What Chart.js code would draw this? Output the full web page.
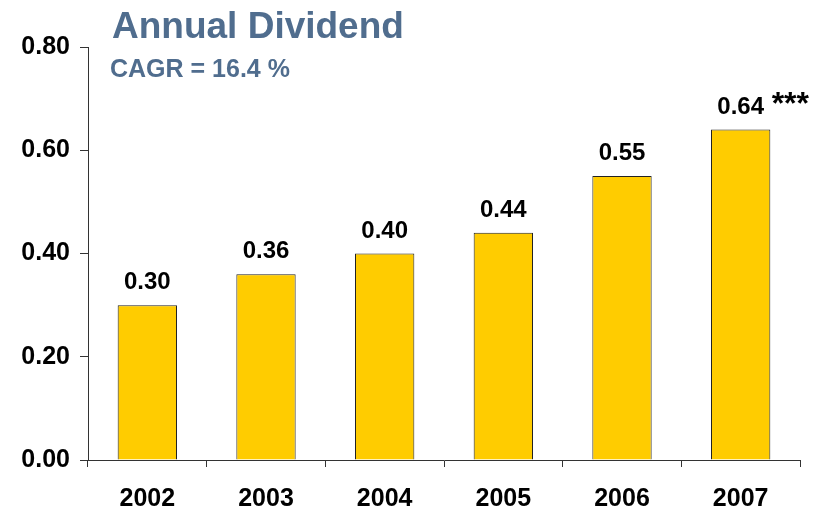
<!DOCTYPE html>
<html>
<head>
<meta charset="utf-8">
<script src="https://cdn.jsdelivr.net/npm/chart.js@4"></script>
<style>
  html, body { margin: 0; padding: 0; background: #fff; }
  #wrap { width: 816px; height: 510px; }
</style>
</head>
<body>
<div id="wrap"><canvas id="grafico" width="816" height="510"></canvas></div>
<script>
const anos = ['2002', '2003', '2004', '2005', '2006', '2007']
const dividendos = [0.30, 0.36, 0.40, 0.44, 0.55, 0.64]
const notas = ['', '', '', '', '', '***']
const titulo = 'Annual Dividend'
const subtitulo = 'CAGR = 16.4 %'

const fonte = 'Liberation Sans, Arial, sans-serif'

// title, subtitle and the value labels over each bar
const textos = {
  id: 'textos',
  afterDatasetsDraw(chart) {
    const c = chart.ctx
    c.save()
    c.fillStyle = '#506d8e'
    c.textAlign = 'left'
    c.textBaseline = 'alphabetic'
    c.font = 'bold 37px ' + fonte
    c.fillText(titulo, 112, 38)
    c.font = 'bold 25px ' + fonte
    c.fillText(subtitulo, 110, 77)

    const meta = chart.getDatasetMeta(0)
    c.fillStyle = '#000'
    meta.data.forEach((bar, i) => {
      c.textAlign = 'center'
      c.font = 'bold 24px ' + fonte
      c.fillText(dividendos[i].toFixed(2), bar.x, bar.y - 16)
      if (notas[i]) {
        c.textAlign = 'left'
        c.font = 'bold 32px ' + fonte
        c.fillText(notas[i], bar.x + 31, bar.y - 16)
      }
    })
    c.restore()
  }
}

new Chart(document.getElementById('grafico'), {
  type: 'bar',
  data: {
    labels: anos,
    datasets: [{
      data: dividendos,
      backgroundColor: '#ffcc00',
      borderColor: '#222222',
      borderWidth: 1,
      barPercentage: 0.5,
      categoryPercentage: 1.0
    }]
  },
  options: {
    responsive: false,
    animation: false,
    layout: { padding: { top: 47, right: 16, left: 0, bottom: 0 } },
    plugins: {
      legend: { display: false },
      tooltip: { enabled: false }
    },
    scales: {
      y: {
        min: 0,
        max: 0.8,
        afterFit(axis) { axis.width = 88 },
        ticks: {
          stepSize: 0.2,
          color: '#000',
          padding: 10,
          font: { family: fonte, size: 25, weight: 'bold' },
          callback: (v) => Number(v).toFixed(2)
        },
        grid: { drawOnChartArea: false, drawTicks: true, tickLength: 8, color: '#333' },
        border: { display: true, color: '#333', width: 1 }
      },
      x: {
        afterFit(axis) { axis.height = 50 },
        ticks: {
          color: '#000',
          padding: 17,
          font: { family: fonte, size: 25, weight: 'bold' }
        },
        grid: { offset: true, drawOnChartArea: false, drawTicks: true, tickLength: 7, color: '#333' },
        border: { display: true, color: '#333', width: 1 }
      }
    }
  },
  plugins: [textos]
})
</script>
</body>
</html>
